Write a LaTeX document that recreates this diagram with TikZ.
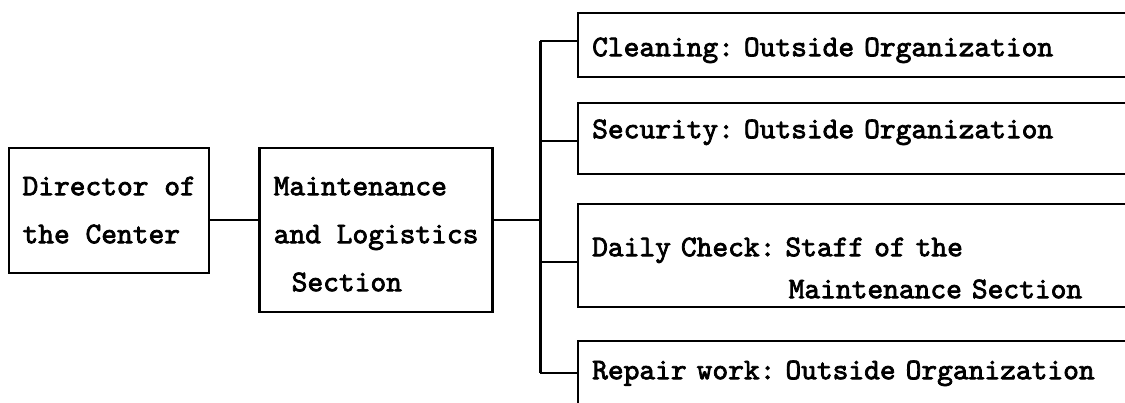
\documentclass[tikz,border=0pt]{standalone}
\usepackage{fontspec}
\usetikzlibrary{positioning,calc}
\newfontfamily\orgtt{lmmono10-regular.otf}[FakeBold=2.5]
% strut: height above and depth below the baseline
\newcommand{\pad}[2]{\rule[-#2]{0pt}{\dimexpr#1+#2\relax}}

\begin{document}
\begin{tikzpicture}[x=0.5pt, y=-0.5pt,
  unit/.style={draw, line width=1.2pt, anchor=north west, inner ysep=0pt,
               align=left, font=\orgtt\frenchspacing\fontsize{15pt}{24pt}\selectfont},
  task/.style={unit, text width=290pt, inner xsep=7pt,
               font=\orgtt\frenchspacing\fontsize{15pt}{21pt}\selectfont},
  link/.style={line width=1pt}
]
  \clip (0,0) rectangle (1125,402);
  \fill[white] (0,0) rectangle (1125,402);
  % Director and section
  \node[unit, minimum width=100pt, inner xsep=0pt] (dir) at (8,147)
    {\pad{23.5pt}{0pt}Director of\\the Center\pad{0pt}{15pt}};
  \node[unit, right=24pt of dir.north east, anchor=north west, minimum width=116.5pt,
        inner xsep=0pt] (maint)
    {\pad{23.5pt}{0pt}Maintenance\\and Logistics\\\hspace*{0.6em}Section\pad{0pt}{10.5pt}};
  % Tasks
  \node[task] (clean) at (577,12) {\pad{21.5pt}{10.5pt}Cleaning: Outside Organization};
  \node[task] (secur) at (577,102) {\pad{17.5pt}{18pt}Security: Outside Organization};
  \node[task] (daily) at (577,203)
    {\pad{26pt}{0pt}Daily Check: Staff of the\\\hspace*{6.55em}Maintenance Section\pad{0pt}{4.5pt}};
  \node[task] (repair) at (577,340) {\pad{19pt}{15pt}Repair work: Outside Organization};

  % Connectors
  \coordinate (jct) at (540,220);
  \coordinate (b1) at (540,41);
  \coordinate (b2) at (540,141);
  \coordinate (b3) at (540,262);
  \coordinate (b4) at (540,373);
  \draw[link] (dir.east |- jct) -- (maint.west |- jct);
  \draw[link] (maint.east |- jct) -- (jct);
  \draw[line width=1.5pt] (b1) -- (b4);
  \draw[link] (b1) -- (clean.west |- b1);
  \draw[link] (b2) -- (secur.west |- b2);
  \draw[link] (b3) -- (daily.west |- b3);
  \draw[link] (b4) -- (repair.west |- b4);
\end{tikzpicture}
\end{document}
